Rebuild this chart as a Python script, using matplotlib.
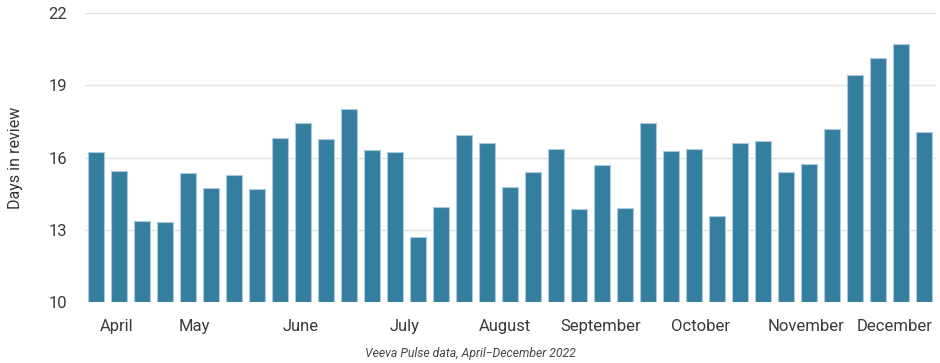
import matplotlib
matplotlib.use("Agg")
import matplotlib.pyplot as plt
import numpy as np

plt.rcParams['font.family'] = ['Roboto', 'DejaVu Sans']

days = [16.23, 15.43, 13.36, 13.32, 15.36, 14.73, 15.27, 14.71, 16.82, 17.43,
        16.77, 18.00, 16.30, 16.21, 12.71, 13.96, 16.94, 16.62, 14.79, 15.38,
        16.34, 13.88, 15.69, 13.90, 17.45, 16.26, 16.34, 13.57, 16.59, 16.70,
        15.38, 15.74, 17.17, 19.44, 20.13, 20.70, 17.07]
months = ['April', 'May', 'June', 'July', 'August', 'September', 'October',
          'November', 'December']
month_pos = [0.9, 4.26, 8.9, 13.4, 17.76, 21.96, 26.26, 30.87, 34.74]
yticks = [10, 13, 16, 19, 22]

fig = plt.figure(figsize=(9.4, 3.63), dpi=100)
ax = fig.add_axes([85/940, 1-302/363, (936-85)/940, (302-13)/363])

x = np.arange(len(days))
ax.bar(x, np.array(days) - 10, bottom=10, width=0.66, color='#367e9f',
       edgecolor='#a9cbdb', linewidth=0.8, zorder=3)

ax.set_ylim(10, 22)
ax.set_xlim(-0.48, len(days) - 0.48)
ax.set_yticks(yticks)
ax.set_yticklabels([str(v) for v in yticks])
ax.set_xticks(month_pos)
ax.set_xticklabels(months)
ax.tick_params(axis='both', length=0, labelsize=12, colors='#3a3a3a')
ax.tick_params(axis='x', pad=12.5)
ax.tick_params(axis='y', pad=13)
ax.grid(axis='y', color='#e3e3e3', linewidth=1, zorder=0)
for s in ax.spines.values():
    s.set_visible(False)

ax.set_ylabel('Days in review', fontsize=11.5, color='#333333', labelpad=18)
fig.text(470/940, 1-354/363, 'Veeva Pulse data, April\u2212December 2022',
         ha='center', va='center', fontsize=8.8, style='italic', color='#444444')

fig.savefig('out.png', dpi=100)
